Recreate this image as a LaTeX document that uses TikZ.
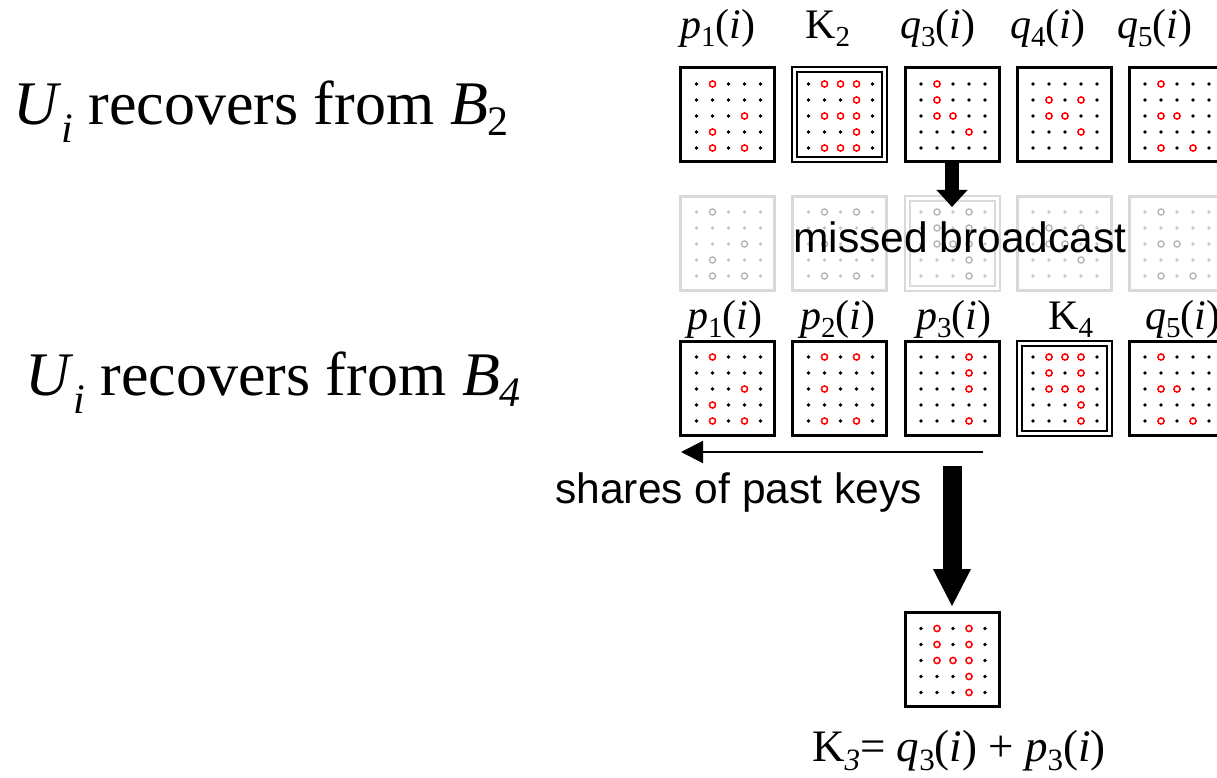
\documentclass[tikz,border=0pt]{standalone}
\usepackage{fontspec}
\setmainfont{Liberation Serif}
\newfontfamily\arialfont{Liberation Sans}
\usetikzlibrary{arrows.meta}

% lowered subscript: size, drop, text
\newcommand\lowsub[3]{\raisebox{-#2}{\fontsize{#1}{#1}\selectfont #3}}
\newcommand\lbl{\fontsize{42}{48}\selectfont}
\newcommand\lsub[1]{\lowsub{29pt}{8pt}{#1}}
\newcommand\fsub[1]{\lowsub{31pt}{9pt}{#1}}

% 5x5 share grid centred at (#1,#2); rings at the col/row pairs of list macro #3; style prefix #4
\newcommand\keygrid[4]{%
  \foreach \cc in {0,...,4}{\foreach \rr in {0,...,4}{
    \fill[#4dot] ({#1+\cc*16-31},{#2+\rr*16-31}) circle[radius=1.9pt];}}
  \foreach \cc/\rr in #3{
    \draw[#4ring] ({#1+\cc*16-31},{#2+\rr*16-31}) circle[radius=3.1pt];}%
}

\tikzset{
  livebox/.style={draw=black, fill=white, line width=3pt, minimum size=94pt, inner sep=0pt},
  livekey/.style={draw=black, double=white, double distance=3pt, line width=2pt,
                  fill=white, minimum size=90pt, inner sep=0pt},
  fadebox/.style={draw=black!15, fill=white, line width=3pt, minimum size=94pt, inner sep=0pt},
  fadekey/.style={draw=black!15, double=white, double distance=3pt, line width=2pt,
                  fill=white, minimum size=90pt, inner sep=0pt},
  livedot/.style={fill=black},
  livering/.style={draw=red, line width=1.5pt, fill=white},
  fadedot/.style={fill=black!22},
  fadering/.style={draw=black!30, line width=1.3pt, fill=white},
  lab/.style={font=\lbl, inner sep=0pt, anchor=base west},
  formula/.style={font=\fontsize{45}{50}\selectfont, inner sep=0pt, anchor=base west},
  bigtext/.style={font=\fontsize{62}{68}\selectfont, inner sep=0pt, anchor=base west},
  sanstext/.style={font=\arialfont\fontsize{42.5}{48}\selectfont, inner sep=0pt, anchor=base},
  fatarrow/.style={line width=14pt, -{Triangle[length=17pt,width=30pt]}},
  bigarrow/.style={line width=19pt, -{Triangle[length=38pt,width=35pt]}},
  thinarrow/.style={line width=2pt, -{Triangle[length=22pt,width=22pt]}},
}

\def\Pone{1/0,3/2,1/3,1/4,3/4}
\def\Ptwo{1/0,3/0,1/2,1/4,3/4}
\def\Pthree{3/0,3/1,3/2,3/4}
\def\Qthree{1/0,1/1,1/2,2/2,3/3}
\def\Qfour{1/1,3/1,1/2,2/2,3/3}
\def\Qfive{1/0,1/2,2/2,1/4,3/4}
\def\Ktwo{1/0,2/0,3/0,3/1,1/2,2/2,3/2,3/3,1/4,2/4,3/4}
\def\Kthree{1/0,3/0,1/1,3/1,1/2,2/2,3/2,3/3,3/4}
\def\Kfour{1/0,2/0,3/0,1/1,3/1,1/2,2/2,3/2,3/3,3/4}

\begin{document}
\begin{tikzpicture}[x=1pt,y=-1pt]
\useasboundingbox[fill=white] (0,0) rectangle (1217,778);

% left-hand captions
\node[bigtext] (capB2) at (13,125) {\textit{U}\lowsub{42pt}{18pt}{\textit{i}} recovers from \textit{B}\lowsub{42pt}{11pt}{2}};
\node[bigtext] (capB4) at (25,395) {\textit{U}\lowsub{42pt}{18pt}{\textit{i}} recovers from \textit{B}\lowsub{42pt}{11pt}{\textit{4}}};

% row 1: state after broadcast B2
\node[livebox] (r1p1) at (727.5,115) {}; \keygrid{727.5}{115}{\Pone}{live}
\node[livekey] (r1k2) at (839.5,115) {}; \keygrid{839.5}{115}{\Ktwo}{live}
\node[livebox] (r1q3) at (952,115) {};   \keygrid{952}{115}{\Qthree}{live}
\node[livebox] (r1q4) at (1064,115) {};  \keygrid{1064}{115}{\Qfour}{live}
\node[livebox] (r1q5) at (1176,115) {};  \keygrid{1176}{115}{\Qfive}{live}

\node[lab] (l1p1) at (680,39) {\textit{p}\lsub{1}(\textit{i})};
\node[lab] (l1k2) at (805,39) {K\lsub{2}};
\node[lab] (l1q3) at (900,39) {\textit{q}\lsub{3}(\textit{i})};
\node[lab] (l1q4) at (1010,39) {\textit{q}\lsub{4}(\textit{i})};
\node[lab] (l1q5) at (1117,39) {\textit{q}\lsub{5}(\textit{i})};

% row 2: the broadcast that was missed
\node[fadebox] (r2p1) at (727.5,243) {}; \keygrid{727.5}{243}{\Pone}{fade}
\node[fadebox] (r2p2) at (839.5,243) {}; \keygrid{839.5}{243}{\Ptwo}{fade}
\node[fadekey] (r2k3) at (952,243) {};   \keygrid{952}{243}{\Kthree}{fade}
\node[fadebox] (r2q4) at (1064,243) {};  \keygrid{1064}{243}{\Qfour}{fade}
\node[fadebox] (r2q5) at (1176,243) {};  \keygrid{1176}{243}{\Qfive}{fade}

\coordinate (misstip) at (952,207);
\draw[fatarrow] (r1q3.south) -- (misstip);
\node[sanstext] (missed) at (960,252) {missed broadcast};

% row 3: state after broadcast B4
\node[livebox] (r3p1) at (727.5,388) {}; \keygrid{727.5}{388}{\Pone}{live}
\node[livebox] (r3p2) at (839.5,388) {}; \keygrid{839.5}{388}{\Ptwo}{live}
\node[livebox] (r3p3) at (952,388) {};   \keygrid{952}{388}{\Pthree}{live}
\node[livekey] (r3k4) at (1064,388) {};  \keygrid{1064}{388}{\Kfour}{live}
\node[livebox] (r3q5) at (1176,388) {};  \keygrid{1176}{388}{\Qfive}{live}

\node[lab] (l3p1) at (687,329) {\textit{p}\lsub{1}(\textit{i})};
\node[lab] (l3p2) at (800,329) {\textit{p}\lsub{2}(\textit{i})};
\node[lab] (l3p3) at (916,329) {\textit{p}\lsub{3}(\textit{i})};
\node[lab] (l3k4) at (1048,329) {K\lsub{4}};
\node[lab] (l3q5) at (1145,329) {\textit{q}\lsub{5}(\textit{i})};

% shares of past keys
\coordinate (sharestail) at (983,452);
\coordinate (sharestip) at (681,452);
\draw[thinarrow] (sharestail) -- (sharestip);
\node[sanstext] (shares) at (738.5,503) {shares of past keys};

% recovered key K3
\node[livebox] (k3) at (952,659.5) {}; \keygrid{952}{659.5}{\Kthree}{live}
\coordinate (bigtail) at (952,466);
\draw[bigarrow, shorten >=4pt] (bigtail) -- (k3.north);

\node[formula] (k3eq) at (812,761) {K\fsub{\textit{3}}= \textit{q}\fsub{3}(\textit{i}) + \textit{p}\fsub{3}(\textit{i})};
\end{tikzpicture}
\end{document}
